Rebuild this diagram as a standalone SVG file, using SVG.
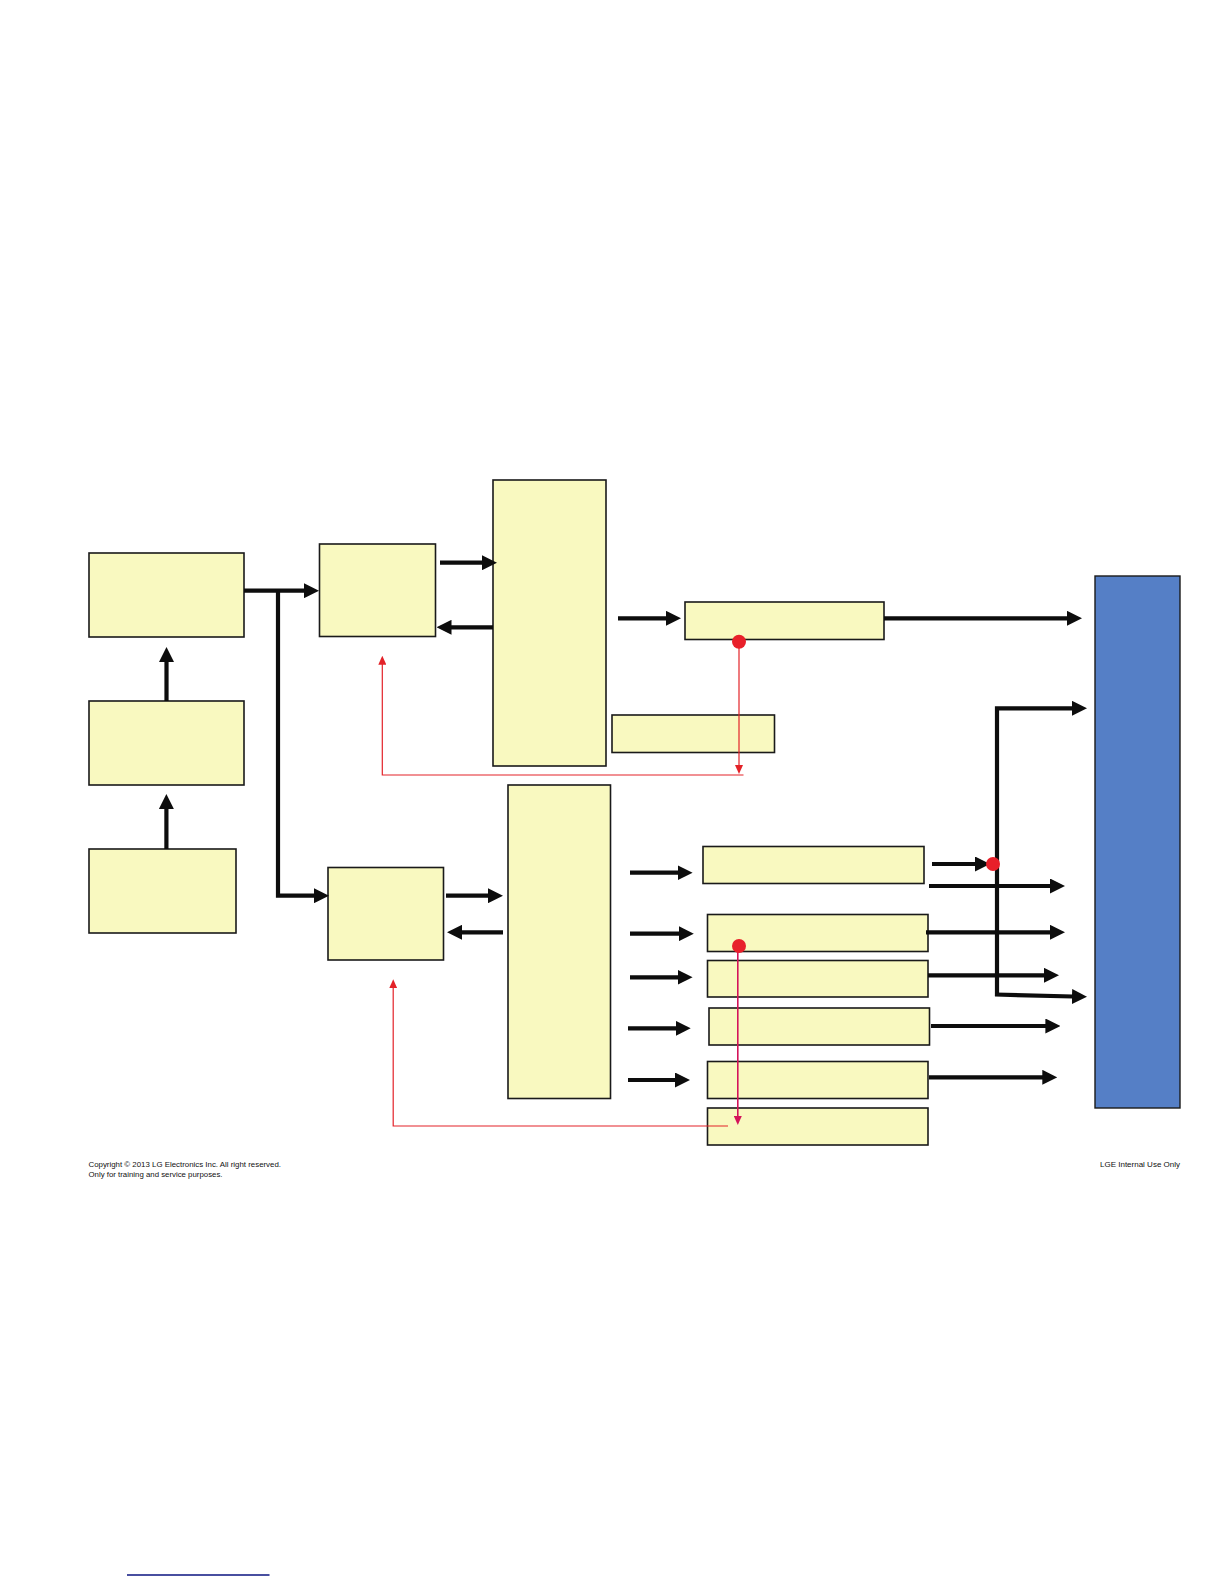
<svg xmlns="http://www.w3.org/2000/svg" width="1224" height="1584" viewBox="0 0 1224 1584">
<style>
.box{fill:#f9f9c0;stroke:#1a1a1a;stroke-width:1.6}
.blue{fill:#557fc6;stroke:#1a1a1a;stroke-width:1.4}
.bk{fill:none;stroke:#0d0d0d;stroke-width:4.2}
.rd{fill:none;stroke:#e32228;stroke-width:1.2}
.pk{fill:none;stroke:#d4145a;stroke-width:1.6}
.dot{fill:#e8202a}
.ft{font-family:"Liberation Sans",Arial,sans-serif;font-size:7.3px;fill:#111}
</style>
<defs>
<marker id="ah" viewBox="0 0 15 15" markerWidth="15" markerHeight="15" refX="1" refY="7.5" orient="auto" markerUnits="userSpaceOnUse"><path d="M0,0 L15,7.5 L0,15 z" fill="#0d0d0d"/></marker>
<marker id="ar" viewBox="0 0 9 8" markerWidth="9" markerHeight="8" refX="1" refY="4" orient="auto" markerUnits="userSpaceOnUse"><path d="M0,0 L9,4 L0,8 z" fill="#e32228"/></marker>
<marker id="ap" viewBox="0 0 9 8" markerWidth="9" markerHeight="8" refX="1" refY="4" orient="auto" markerUnits="userSpaceOnUse"><path d="M0,0 L9,4 L0,8 z" fill="#d4145a"/></marker>
</defs>
<g id="nodeA"><rect class="box" x="89" y="553" width="155" height="84"/></g>
<g id="nodeB"><rect class="box" x="89" y="701" width="155" height="84"/></g>
<g id="nodeC"><rect class="box" x="89" y="849" width="147" height="84"/></g>
<g id="nodeD"><rect class="box" x="319.5" y="544" width="116" height="92.5"/></g>
<g id="nodeE"><rect class="box" x="493" y="480" width="113" height="286"/></g>
<g id="nodeF"><rect class="box" x="685" y="602" width="199" height="37.5"/></g>
<g id="nodeG"><rect class="box" x="612" y="715" width="162.5" height="37.5"/></g>
<g id="nodeH"><rect class="box" x="328" y="867.5" width="115.5" height="92.5"/></g>
<g id="nodeI"><rect class="box" x="508" y="785" width="102.5" height="313.5"/></g>
<g id="nodeJ"><rect class="box" x="703" y="846.5" width="221" height="37"/></g>
<g id="nodeK"><rect class="box" x="707.5" y="914.5" width="220.5" height="37"/></g>
<g id="nodeL"><rect class="box" x="707.5" y="960.5" width="220.5" height="36.5"/></g>
<g id="nodeM"><rect class="box" x="709" y="1008" width="220.5" height="37"/></g>
<g id="nodeN"><rect class="box" x="707.5" y="1061.5" width="220.5" height="37"/></g>
<g id="nodeO"><rect class="box" x="707.5" y="1108" width="220.5" height="37"/></g>
<g id="nodeP"><rect class="blue" x="1095" y="576" width="85" height="532"/></g>
<g id="connectors">
<line class="bk" x1="166.5" y1="701" x2="166.5" y2="661" marker-end="url(#ah)"/>
<line class="bk" x1="166.4" y1="849" x2="166.4" y2="808" marker-end="url(#ah)"/>
<line class="bk" x1="244" y1="590.7" x2="305" y2="590.7" marker-end="url(#ah)"/>
<path class="bk" d="M278,589 V895.7 H315" marker-end="url(#ah)"/>
<line class="bk" x1="440" y1="562.7" x2="483" y2="562.7" marker-end="url(#ah)"/>
<line class="bk" x1="493" y1="627.3" x2="450.5" y2="627.3" marker-end="url(#ah)"/>
<line class="bk" x1="618" y1="618.3" x2="667" y2="618.3" marker-end="url(#ah)"/>
<line class="bk" x1="884" y1="618.3" x2="1068" y2="618.3" marker-end="url(#ah)"/>
<line class="bk" x1="446" y1="895.7" x2="489" y2="895.7" marker-end="url(#ah)"/>
<line class="bk" x1="503" y1="932.3" x2="461" y2="932.3" marker-end="url(#ah)"/>
<line class="bk" x1="630" y1="872.7" x2="678.6" y2="872.7" marker-end="url(#ah)"/>
<line class="bk" x1="630" y1="933.7" x2="679.8" y2="933.7" marker-end="url(#ah)"/>
<line class="bk" x1="630" y1="977.3" x2="678.6" y2="977.3" marker-end="url(#ah)"/>
<line class="bk" x1="628" y1="1028.3" x2="676.7" y2="1028.3" marker-end="url(#ah)"/>
<line class="bk" x1="628" y1="1080" x2="676" y2="1080" marker-end="url(#ah)"/>
<line class="bk" x1="932" y1="864" x2="976" y2="864" marker-end="url(#ah)"/>
<line class="bk" x1="929" y1="886" x2="1051" y2="886" marker-end="url(#ah)"/>
<line class="bk" x1="926" y1="932.3" x2="1051" y2="932.3" marker-end="url(#ah)"/>
<line class="bk" x1="928" y1="975.3" x2="1045" y2="975.3" marker-end="url(#ah)"/>
<line class="bk" x1="931" y1="1026" x2="1046.4" y2="1026" marker-end="url(#ah)"/>
<line class="bk" x1="929" y1="1077.3" x2="1043.3" y2="1077.3" marker-end="url(#ah)"/>
<path class="bk" d="M997,996 V708.3 H1073" marker-end="url(#ah)"/>
<path class="bk" d="M995,994.5 L1073,996.5" marker-end="url(#ah)"/>
<circle class="dot" cx="993" cy="864" r="7"/>
<line class="rd" x1="739" y1="642" x2="739" y2="766" marker-end="url(#ar)"/>
<path class="rd" d="M743.5,775 H382.3 V663.7" marker-end="url(#ar)"/>
<circle class="dot" cx="739" cy="641.7" r="7"/>
<line class="pk" x1="737.8" y1="946" x2="737.8" y2="1117" marker-end="url(#ap)"/>
<path class="rd" d="M728,1126 H393.2 V987.3" marker-end="url(#ar)"/>
<circle class="dot" cx="739" cy="946" r="7"/>
</g>
<g id="footer">
<text class="ft" x="88.5" y="1166.8" textLength="192.5" lengthAdjust="spacingAndGlyphs">Copyright © 2013 LG Electronics Inc. All right reserved.</text>
<text class="ft" x="88.5" y="1176.6" textLength="134" lengthAdjust="spacingAndGlyphs">Only for training and service purposes.</text>
<text class="ft" x="1100" y="1166.6" textLength="80" lengthAdjust="spacingAndGlyphs">LGE Internal Use Only</text>
<line x1="127" y1="1575" x2="269.5" y2="1575" stroke="#0b1580" stroke-width="1.6"/>
</g>
</svg>
